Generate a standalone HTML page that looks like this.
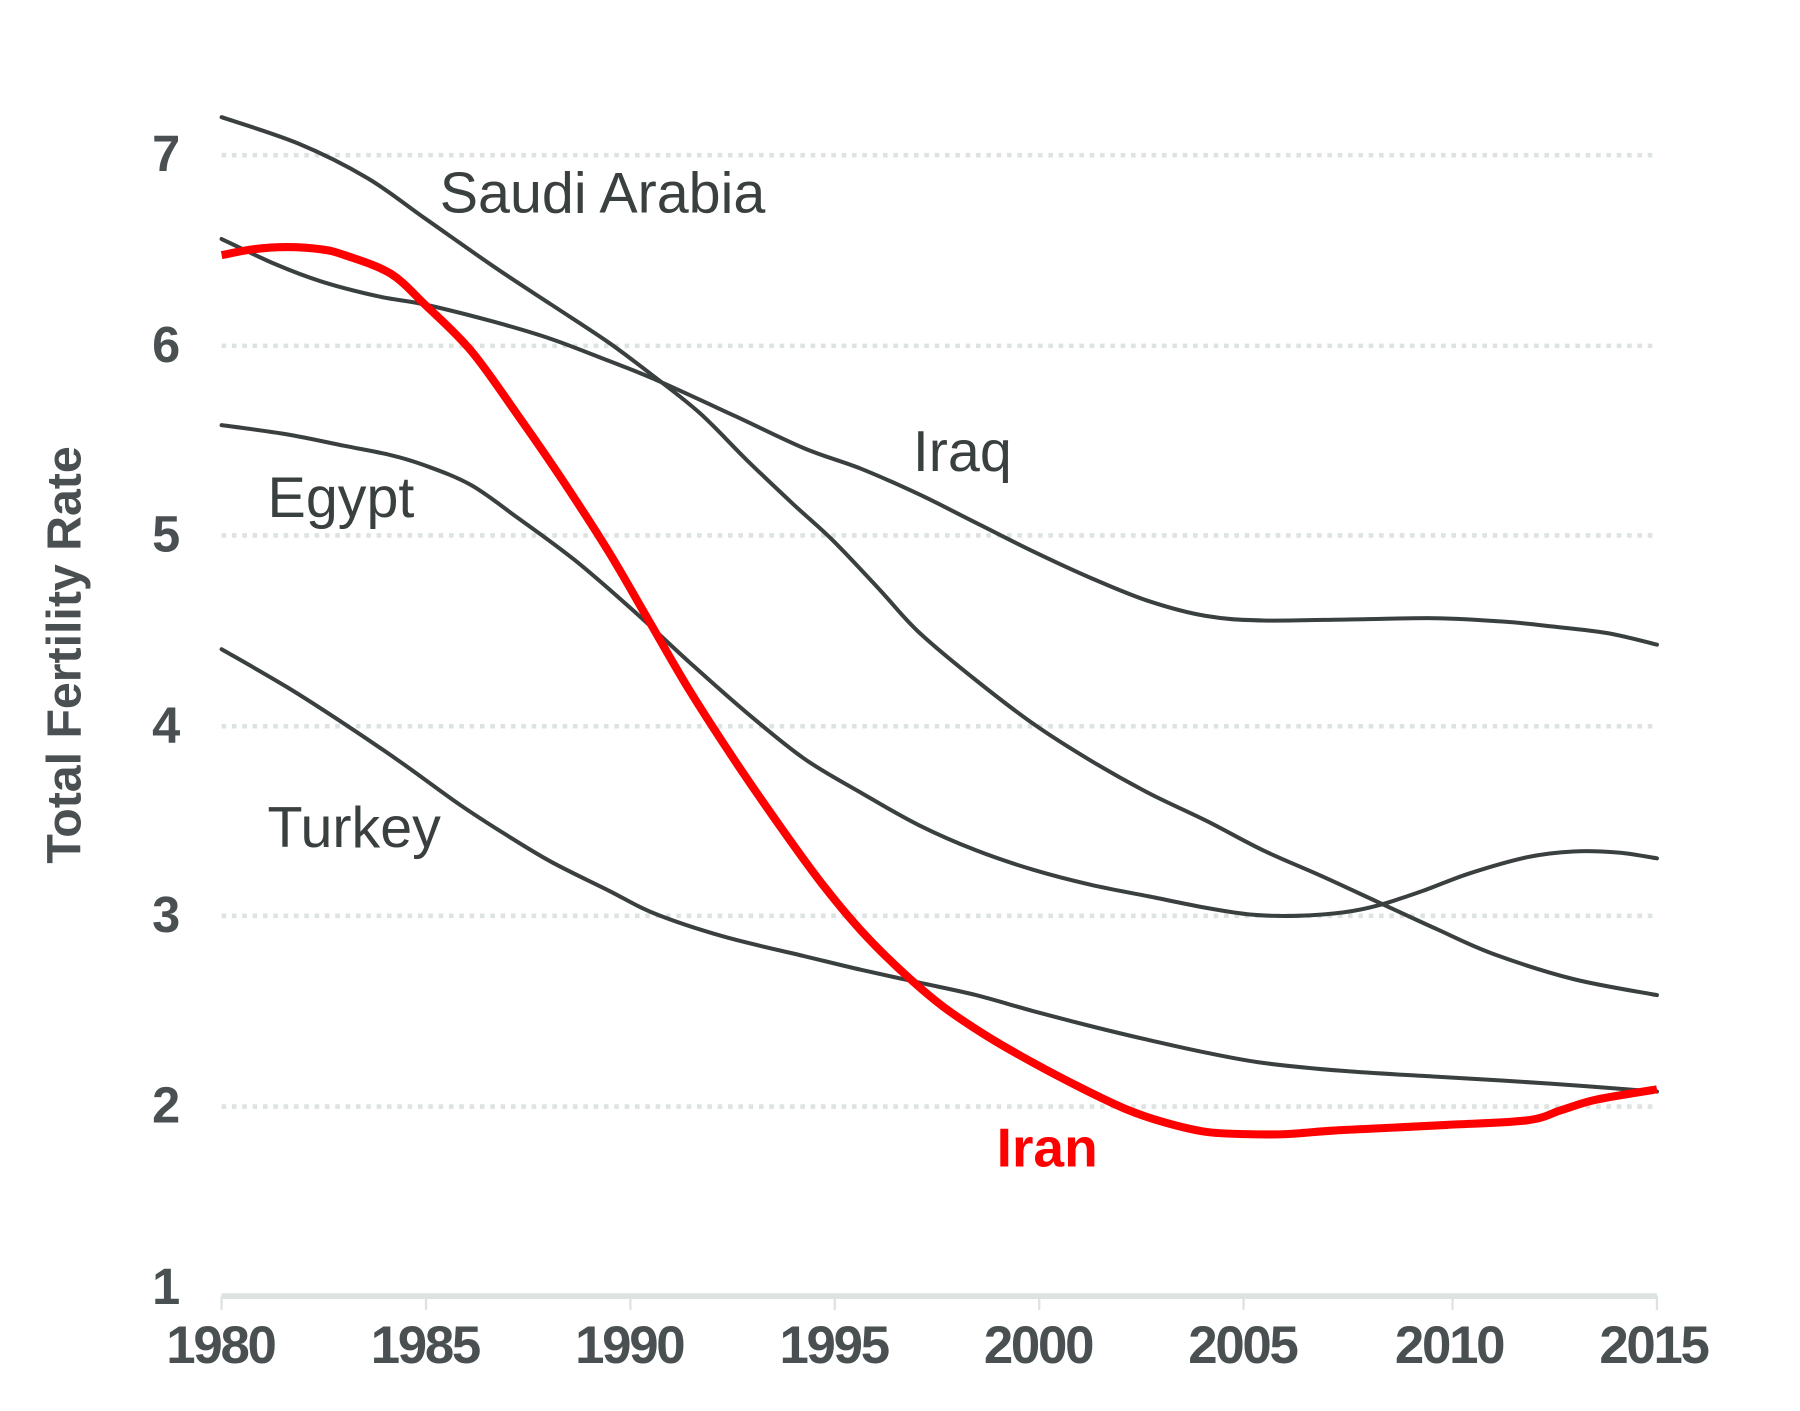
<!DOCTYPE html>
<html><head><style>html,body{margin:0;padding:0;background:#fff}</style></head><body>
<svg id="s" width="1800" height="1406" viewBox="0 0 1567.6 1223.6" preserveAspectRatio="none" xmlns="http://www.w3.org/2000/svg" font-family="Liberation Sans, sans-serif">
<g stroke="#dde3e0" stroke-width="4" stroke-dasharray="4 5">
<line x1="193" y1="135" x2="1443" y2="135"/>
<line x1="193" y1="301" x2="1443" y2="301"/>
<line x1="193" y1="466" x2="1443" y2="466"/>
<line x1="193" y1="632" x2="1443" y2="632"/>
<line x1="193" y1="797" x2="1443" y2="797"/>
<line x1="193" y1="963" x2="1443" y2="963"/>
</g>
<line x1="193" y1="1128" x2="1443" y2="1128" stroke="#dde3e0" stroke-width="5"/>
<g stroke="#dde3e0" stroke-width="2">
<line x1="193" y1="1128" x2="193" y2="1140"/><line x1="371" y1="1128" x2="371" y2="1140"/><line x1="549" y1="1128" x2="549" y2="1140"/><line x1="727" y1="1128" x2="727" y2="1140"/><line x1="905" y1="1128" x2="905" y2="1140"/><line x1="1083" y1="1128" x2="1083" y2="1140"/><line x1="1265" y1="1128" x2="1265" y2="1140"/><line x1="1443" y1="1128" x2="1443" y2="1140"/>
</g>
<g fill="#4a5052" font-weight="bold" font-size="44" text-anchor="end">
<text x="157" y="149">7</text><text x="157" y="315">6</text><text x="157" y="480">5</text><text x="157" y="646">4</text><text x="157" y="811">3</text><text x="157" y="977">2</text><text x="157" y="1135">1</text>
</g>
<g fill="#4a5052" font-weight="bold" font-size="46" text-anchor="middle" letter-spacing="-2">
<text x="192" y="1186">1980</text><text x="370" y="1186">1985</text><text x="548" y="1186">1990</text><text x="726" y="1186">1995</text><text x="904" y="1186">2000</text><text x="1082" y="1186">2005</text><text x="1262" y="1186">2010</text><text x="1440" y="1186">2015</text>
</g>
<text transform="translate(70,570) rotate(-90)" fill="#4a5052" font-weight="bold" font-size="42" text-anchor="middle">Total Fertility Rate</text>
<g fill="none" stroke="#3a3f40" stroke-width="3.5" stroke-linecap="round">
<path class="c" data-p="193,102 260,125 320,155 370,190 430,232 480,265 530,298 570,328 610,360 650,400 690,438 725,470 765,512 800,550 850,592 900,630 950,662 1000,690 1050,714 1100,740 1150,762 1200,785 1250,808 1300,830 1370,852 1443,866"/>
<path class="c" data-p="193,208 240,230 280,245 330,258 370,265 430,280 480,295 530,314 570,330 640,362 700,390 750,408 800,430 850,455 900,480 950,503 1000,523 1050,536 1100,540 1180,539 1250,538 1310,541 1350,545 1400,551 1443,561"/>
<path class="c" data-p="193,370 250,378 300,388 340,396 370,405 410,422 450,450 500,487 550,530 600,576 650,620 700,660 750,690 800,718 850,740 900,757 950,770 1000,780 1050,790 1090,796 1130,797 1170,794 1200,788 1240,775 1280,760 1330,746 1370,741 1410,742 1443,747"/>
<path class="c" data-p="193,565 250,598 300,630 350,664 400,700 440,726 480,750 530,775 570,795 630,815 700,832 750,844 800,855 850,866 900,880 950,893 1000,905 1050,916 1100,925 1170,932 1250,937 1350,943 1443,950"/>
</g>
<path class="c" fill="none" stroke="#ff0000" stroke-width="7" data-p="193,222 220,217 250,215 280,217 300,222 340,238 370,265 410,305 450,360 490,418 530,480 565,540 600,600 640,662 680,720 715,768 750,810 785,845 820,875 860,902 900,925 940,946 980,965 1015,977 1050,985 1085,987 1120,987 1160,984 1200,982 1260,979 1330,975 1360,966 1390,957 1443,948"/>
<g fill="#3a3f40" font-size="50">
<text x="383" y="185">Saudi Arabia</text>
<text x="795" y="410">Iraq</text>
<text x="233" y="450">Egypt</text>
<text x="233" y="737">Turkey</text>
</g>
<text x="868" y="1015" fill="#ff0000" font-weight="bold" font-size="48">Iran</text>
</svg>
<script>
document.querySelectorAll('path.c').forEach(function(el){
var p=el.getAttribute('data-p').trim().split(/\s+/).map(function(s){return s.split(',').map(Number);});
var d='M'+p[0][0]+','+p[0][1];
for(var i=0;i<p.length-1;i++){
var p0=p[i-1]||p[i],p1=p[i],p2=p[i+1],p3=p[i+2]||p[i+1];
var c1x=p1[0]+(p2[0]-p0[0])/6,c1y=p1[1]+(p2[1]-p0[1])/6;
var c2x=p2[0]-(p3[0]-p1[0])/6,c2y=p2[1]-(p3[1]-p1[1])/6;
d+=' C'+c1x.toFixed(1)+','+c1y.toFixed(1)+' '+c2x.toFixed(1)+','+c2y.toFixed(1)+' '+p2[0]+','+p2[1];
}
el.setAttribute('d',d);
});
</script>
</body></html>
